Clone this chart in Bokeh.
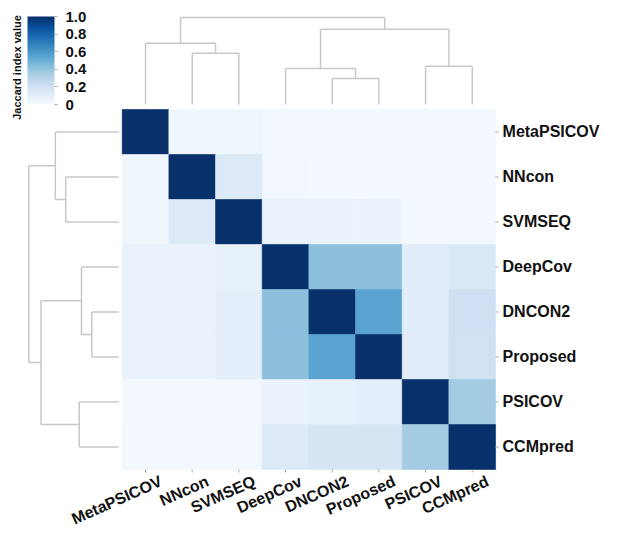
import numpy as np
from math import pi
from bokeh.plotting import figure
from bokeh.models import (ColumnDataSource, LinearColorMapper, ColorBar, FixedTicker,
                          Range1d, Label, LabelSet, PrintfTickFormatter)
from bokeh.transform import transform
from bokeh.core.properties import value
from bokeh.palettes import Blues9
from bokeh.embed import file_html
from bokeh.resources import INLINE

# ---------------- data ----------------
methods = ["MetaPSICOV", "NNcon", "SVMSEQ", "DeepCov", "DNCON2", "Proposed", "PSICOV", "CCMpred"]

row_metapsicov = [1.00, 0.04, 0.04, 0.03, 0.03, 0.03, 0.03, 0.03]
row_nncon      = [0.04, 1.00, 0.14, 0.03, 0.02, 0.02, 0.02, 0.02]
row_svmseq     = [0.04, 0.14, 1.00, 0.07, 0.07, 0.07, 0.02, 0.02]
row_deepcov    = [0.07, 0.07, 0.08, 1.00, 0.42, 0.42, 0.11, 0.15]
row_dncon2     = [0.07, 0.07, 0.09, 0.42, 1.00, 0.55, 0.11, 0.21]
row_proposed   = [0.07, 0.07, 0.09, 0.42, 0.55, 1.00, 0.11, 0.20]
row_psicov     = [0.02, 0.02, 0.02, 0.07, 0.08, 0.09, 1.00, 0.36]
row_ccmpred    = [0.03, 0.02, 0.02, 0.14, 0.17, 0.17, 0.36, 1.00]
jaccard = [row_metapsicov, row_nncon, row_svmseq, row_deepcov,
           row_dncon2, row_proposed, row_psicov, row_ccmpred]

# hierarchical clustering merges: (cluster a, cluster b, relative height); new ids start at 8
merge_a = [4, 3, 6, 1, 0, 9, 12]
merge_b = [5, 8, 7, 2, 11, 10, 13]
merge_h = [0.30, 0.415, 0.44, 0.59, 0.705, 0.865, 1.00]

cbar_ticks = [0.0, 0.2, 0.4, 0.6, 0.8, 1.0]

# ---------------- helpers ----------------
def hex2rgb(h):
    h = h.lstrip("#")
    return [int(h[i:i + 2], 16) for i in (0, 2, 4)]

base = np.array([hex2rgb(c) for c in Blues9[::-1]], dtype=float)   # light -> dark
t_base = np.linspace(0, 1, len(base))
t_new = np.linspace(0, 1, 256)
palette = ["#%02x%02x%02x" % tuple(int(round(np.interp(t, t_base, base[:, k]))) for k in range(3))
           for t in t_new]
mapper = LinearColorMapper(palette=palette, low=0, high=1)

n = len(methods)

def dendro_segments():
    pos = {i: i + 0.5 for i in range(n)}
    hgt = {i: 0.0 for i in range(n)}
    segs = []
    for k, (a, b, h) in enumerate(zip(merge_a, merge_b, merge_h)):
        segs.append((pos[a], hgt[a], pos[a], h))
        segs.append((pos[a], h, pos[b], h))
        segs.append((pos[b], h, pos[b], hgt[b]))
        pos[n + k] = (pos[a] + pos[b]) / 2.0
        hgt[n + k] = h
    return segs

segs = dendro_segments()

# ---------------- figure ----------------
p = figure(width=603, height=527, x_range=Range1d(-2.608, 10.313), y_range=Range1d(-1.289, 10.422),
           x_axis_location=None, y_axis_location=None, toolbar_location=None,
           output_backend="svg", min_border=0, outline_line_color=None)
p.xgrid.visible = False
p.ygrid.visible = False

# heatmap
hx, hy, hv = [], [], []
for i, row in enumerate(jaccard):
    for j, v in enumerate(row):
        hx.append(j + 0.5)
        hy.append(n - i - 0.5)
        hv.append(v)
src = ColumnDataSource(dict(x=hx, y=hy, v=hv))
p.rect(x="x", y="y", width=1, height=1, source=src,
       fill_color=transform("v", mapper), line_color=transform("v", mapper), line_width=0.6)

# dendrograms
TOP_BASE, TOP_SCALE = 8.111, 1.933
LEFT_BASE, LEFT_SCALE = -0.073, 1.928
top_src = ColumnDataSource(dict(
    x0=[s[0] for s in segs], y0=[TOP_BASE + s[1] * TOP_SCALE for s in segs],
    x1=[s[2] for s in segs], y1=[TOP_BASE + s[3] * TOP_SCALE for s in segs]))
left_src = ColumnDataSource(dict(
    x0=[LEFT_BASE - s[1] * LEFT_SCALE for s in segs], y0=[n - s[0] for s in segs],
    x1=[LEFT_BASE - s[3] * LEFT_SCALE for s in segs], y1=[n - s[2] for s in segs]))
for s in (top_src, left_src):
    p.segment(x0="x0", y0="y0", x1="x1", y1="y1", source=s,
              line_color="#c8c8c8", line_width=1.5)

# row labels (right) with small tick marks
row_pos = [n - i - 0.5 for i in range(n)]
row_src = ColumnDataSource(dict(x=[n] * n, y=row_pos, text=methods))
p.ray(x="x", y="y", length=3, length_units="screen", angle=0, source=row_src,
      line_color="#aaaaaa", line_width=1)
p.add_layout(LabelSet(x="x", y="y", text="text", source=row_src, x_offset=7,
                      text_align="left", text_baseline="middle",
                      text_font=value("Liberation Sans"), text_font_style="bold",
                      text_font_size="16px", text_color="#111111"))

# column labels (bottom), rotated, with small tick marks
col_pos = [j + 0.5 for j in range(n)]
col_src = ColumnDataSource(dict(x=col_pos, y=[0.0] * n, text=methods))
p.ray(x="x", y="y", length=3, length_units="screen", angle=-pi / 2, source=col_src,
      line_color="#aaaaaa", line_width=1)
p.add_layout(LabelSet(x="x", y="y", text="text", source=col_src,
                      x_offset=12, y_offset=-3, angle=0.42,
                      text_align="right", text_baseline="top",
                      text_font=value("Liberation Sans"), text_font_style="bold",
                      text_font_size="16px", text_color="#111111"))

# colour bar
cb = ColorBar(color_mapper=mapper, location=(27, 423), orientation="vertical",
              width=27, height=88, padding=0, margin=0,
              ticker=FixedTicker(ticks=cbar_ticks),
              formatter=PrintfTickFormatter(format="%.1f"),
              major_label_overrides={0: "0"},
              major_tick_in=0, major_tick_out=3, major_tick_line_color="#aaaaaa",
              minor_tick_line_color=None, label_standoff=8,
              major_label_text_font="Liberation Sans", major_label_text_font_style="bold",
              major_label_text_font_size="15px", major_label_text_color="#111111",
              background_fill_alpha=0, border_line_color=None, bar_line_color=None)
p.add_layout(cb)

p.add_layout(Label(x=-2.265, y=8.933, text="Jaccard index value", angle=pi / 2,
                   text_align="center", text_baseline="middle",
                   text_font="Liberation Sans", text_font_style="bold",
                   text_font_size="11px", text_color="#111111"))

open("out.html", "w").write(file_html(p, INLINE))
